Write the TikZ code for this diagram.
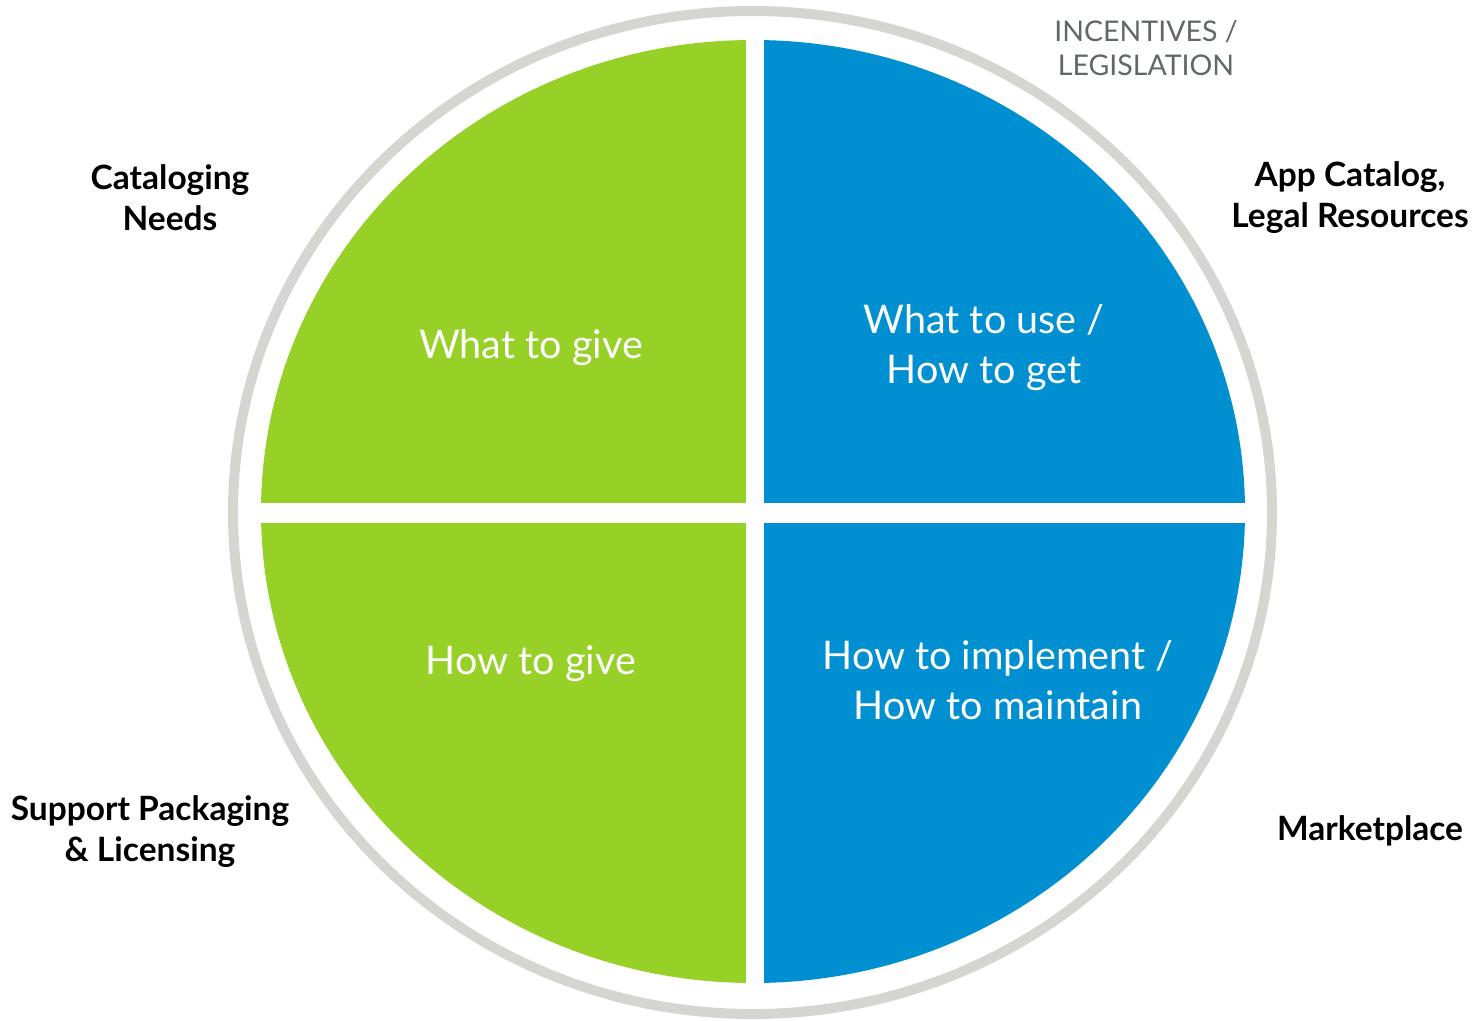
\documentclass[tikz,border=0pt]{standalone}
\usepackage{fontspec}
\setmainfont{Lato}
\definecolor{qgreen}{RGB}{151,209,39}
\definecolor{qblue}{RGB}{0,143,208}
\definecolor{ringgray}{RGB}{213,214,210}
\definecolor{txtgray}{RGB}{98,104,104}
\begin{document}
\begin{tikzpicture}[x=1pt,y=-1pt,
  inner/.style={text=white,align=center,font=\fontsize{39.5}{50}\selectfont},
  outer/.style={text=black,align=center,font=\bfseries\fontsize{33.5}{41}\selectfont},
  note/.style={text=txtgray,align=center,font=\fontsize{28.5}{34}\selectfont}]
\useasboundingbox (0,0) rectangle (1482,1020);
\draw[ringgray,line width=10] (752.5,512.5) ellipse [x radius=519.5, y radius=501.5];
\begin{scope}
\clip (753,511.5) ellipse [x radius=492, y radius=471.5];
\fill[qgreen] (0,0) rectangle (746,503);
\fill[qgreen] (0,523) rectangle (746,1020);
\fill[qblue] (764,0) rectangle (1482,503);
\fill[qblue] (764,523) rectangle (1482,1020);
\end{scope}
\node[inner] (q1) at (531,348) {What to give};
\node[inner] (q2) at (984,348) {What to use /\\How to get};
\node[inner] (q3) at (531,664) {How to give};
\node[inner] (q4) at (998,680) {How to implement /\\How to maintain};
\node[outer] (l1) at (170,198) {Cataloging\\Needs};
\node[outer] (l2) at (1350,198) {App Catalog,\\Legal Resources};
\node[outer] (l3) at (150,832) {Support Packaging\\\& Licensing};
\node[outer] (l4) at (1370,831) {Marketplace};
\node[note] (n1) at (1146,48) {INCENTIVES /\\LEGISLATION};
\end{tikzpicture}
\end{document}
